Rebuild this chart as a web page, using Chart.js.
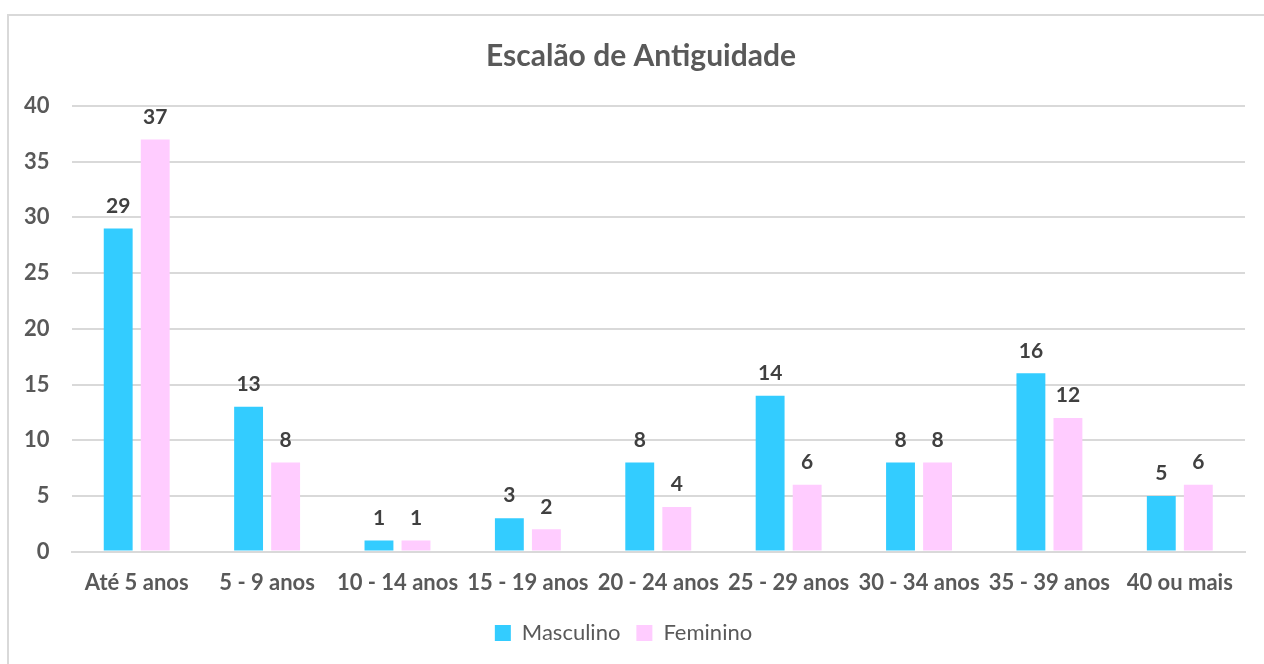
<!DOCTYPE html>
<html>
<head>
<meta charset="utf-8">
<script src="https://cdn.jsdelivr.net/npm/chart.js@4"></script>
<style>
  html, body { margin: 0; padding: 0; background: #fff; }
  #frame { position: absolute; left: 7px; top: 14px; width: 1270px; height: 670px; border: 2px solid #d9d9d9; box-sizing: border-box; }
  #wrap { position: absolute; left: 0; top: 0; width: 1264px; height: 664px; }
</style>
</head>
<body>
<div id="frame"></div>
<div id="wrap"><canvas id="myChart"></canvas></div>
<script>
var titulo = 'Escalão de Antiguidade';
var categorias = ['Até 5 anos', '5 - 9 anos', '10 - 14 anos', '15 - 19 anos', '20 - 24 anos', '25 - 29 anos', '30 - 34 anos', '35 - 39 anos', '40 ou mais'];
var masculino = [29, 13, 1, 3, 8, 14, 8, 16, 5];
var feminino = [37, 8, 1, 2, 4, 6, 8, 12, 6];
var yTicks = [0, 5, 10, 15, 20, 25, 30, 35, 40];

// etiquetas de valor encima de cada barra + titulo centrado en el marco
var valueLabels = {
    id: 'valueLabels',
    afterDatasetsDraw: function (chart) {
        var ctx = chart.ctx;
        ctx.save();
        ctx.font = 'bold 21px Lato';
        ctx.fillStyle = '#404040';
        ctx.textAlign = 'center';
        ctx.textBaseline = 'bottom';
        chart.data.datasets.forEach(function (ds, i) {
            chart.getDatasetMeta(i).data.forEach(function (bar, j) {
                ctx.fillText(ds.data[j], bar.x, bar.y - 12);
            });
        });
        ctx.font = 'bold 30px Lato';
        ctx.fillStyle = '#595959';
        ctx.textBaseline = 'middle';
        ctx.fillText(titulo, chart.width / 2 + 9, 56);
        ctx.restore();
    }
};

function renderChart() {
    var ctx = document.getElementById('myChart').getContext('2d');
    var myChart = new Chart(ctx, {
        type: 'bar',
        data: {
            labels: categorias,
            datasets: [{
                label: 'Masculino',
                data: masculino,
                backgroundColor: '#33ccff'
            }, {
                label: 'Feminino',
                data: feminino,
                backgroundColor: '#ffccff'
            }]
        },
        plugins: [valueLabels],
        options: {
            responsive: true,
            maintainAspectRatio: false,
            animation: false,
            categoryPercentage: 0.568,
            barPercentage: 0.78,
            layout: { padding: { left: 2, right: 19, top: 106, bottom: 10 } },
            plugins: {
                title: { display: false },
                legend: {
                    position: 'bottom',
                    labels: {
                        color: '#595959',
                        font: { family: 'Lato', size: 22 },
                        boxWidth: 16,
                        boxHeight: 16,
                        padding: 16
                    }
                },
                tooltip: { enabled: false }
            },
            scales: {
                x: {
                    grid: { display: false },
                    border: { color: '#d9d9d9', width: 2 },
                    ticks: {
                        color: '#595959',
                        font: { family: 'Lato', size: 22, weight: 'bold' },
                        maxRotation: 0,
                        autoSkip: false,
                        padding: 10
                    }
                },
                y: {
                    min: 0,
                    max: 40,
                    afterBuildTicks: function (axis) {
                        axis.ticks = yTicks.map(function (v) { return { value: v }; });
                    },
                    grid: { color: '#d9d9d9', lineWidth: 2, drawTicks: false },
                    border: { display: false },
                    ticks: {
                        color: '#595959',
                        font: { family: 'Lato', size: 22, weight: 'bold' },
                        padding: 22
                    }
                }
            }
        }
    });
}

renderChart();
</script>
</body>
</html>
